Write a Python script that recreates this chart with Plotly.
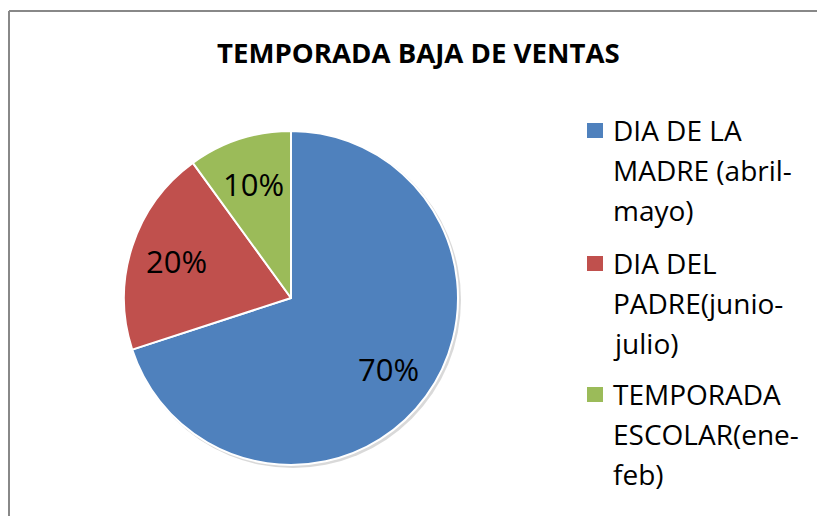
import math
import plotly.graph_objects as go

W, H = 817, 516
title = "TEMPORADA BAJA DE VENTAS"
labels = ["DIA DE LA MADRE (abril-mayo)", "DIA DEL PADRE(junio-julio)", "TEMPORADA ESCOLAR(ene-feb)"]
legend_lines = [["DIA DE LA", "MADRE (abril-", "mayo)"],
                ["DIA DEL", "PADRE(junio-", "julio)"],
                ["TEMPORADA", "ESCOLAR(ene-", "feb)"]]
values = [70, 20, 10]
colors = ["#4F81BD", "#C0504D", "#9BBB59"]

FONT = "'Open Sans', Carlito, Calibri, Lato, sans-serif"

def px(x):
    return x / W

def py(y):
    return 1 - y / H

# pie geometry (pixels)
CX, CY, R = 291, 298, 167

fig = go.Figure()
fig.add_trace(go.Pie(
    labels=labels, values=values, sort=False, direction="clockwise", rotation=0,
    marker=dict(colors=colors, line=dict(color="white", width=2)),
    textinfo="none",
    domain=dict(x=[px(CX - R), px(CX + R)], y=[py(CY + R), py(CY - R)]),
    showlegend=False, hoverinfo="label+percent",
))

shapes = []
annotations = []
# frame (left and top edges only; the rest lies outside the view)
shapes.append(dict(type="line", xref="paper", yref="paper", x0=px(9), y0=py(11), x1=px(9), y1=0,
                   line=dict(color="#888888", width=2), layer="below"))
shapes.append(dict(type="line", xref="paper", yref="paper", x0=px(9), y0=py(11), x1=1, y1=py(11),
                   line=dict(color="#888888", width=2), layer="below"))
# pie shadow
shapes.append(dict(type="circle", xref="paper", yref="paper", x0=px(CX - R + 1), y0=py(CY + R + 3),
                   x1=px(CX + R + 3), y1=py(CY - R + 1),
                   line=dict(width=0), fillcolor="rgba(0,0,0,0.15)", layer="below"))

annotations.append(dict(text="<b>" + title + "</b>", x=px(418), y=py(52), xref="paper", yref="paper",
                        showarrow=False, xanchor="center", yanchor="middle",
                        font=dict(family=FONT, size=27.6, color="black")))

# percentage labels placed at slice mid-angles (computed from the values)
total = sum(values)
cum = 0
for v in values:
    mid = (cum + v / 2) / total * 2 * math.pi
    cum += v
    rr = 0.72 * R
    x = CX + rr * math.sin(mid)
    y = CY - rr * math.cos(mid)
    annotations.append(dict(text=f"{round(v / total * 100)}%", x=px(x), y=py(y), xref="paper", yref="paper",
                            showarrow=False, xanchor="center", yanchor="middle",
                            font=dict(family=FONT, size=31, color="black")))

first_y = [130, 263, 394]
line_h = 40
for i, lines in enumerate(legend_lines):
    y0 = first_y[i]
    shapes.append(dict(type="rect", xref="paper", yref="paper", x0=px(587), x1=px(603),
                       y0=py(y0 + 8), y1=py(y0 - 7), fillcolor=colors[i], line=dict(width=0)))
    for j, t in enumerate(lines):
        annotations.append(dict(text=t, x=px(611), y=py(y0 + j * line_h), xref="paper", yref="paper",
                                showarrow=False, xanchor="left", yanchor="middle",
                                font=dict(family=FONT, size=28, color="black")))

fig.update_layout(width=W, height=H, margin=dict(l=0, r=0, t=0, b=0),
                  paper_bgcolor="white", plot_bgcolor="white",
                  shapes=shapes, annotations=annotations)
fig.write_html("out.html", config={"displayModeBar": False})

with open("out.html", encoding="utf-8") as f:
    html = f.read()
html = html.replace("<body>", '<body style="margin:0;overflow:hidden">', 1)
with open("out.html", "w", encoding="utf-8") as f:
    f.write(html)
